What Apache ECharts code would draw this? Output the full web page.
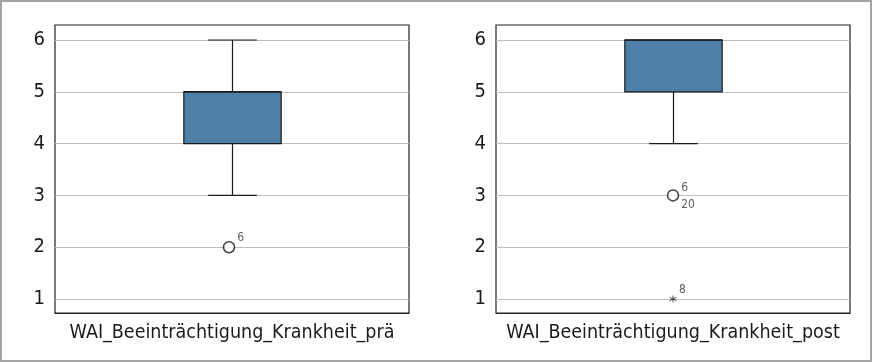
<!DOCTYPE html>
<html><head><meta charset="utf-8">
<script src="https://cdn.jsdelivr.net/npm/echarts@6/dist/echarts.min.js"></script>
<style>
html,body{margin:0;padding:0;background:#fff}
#wrap{position:relative;width:872px;height:362px}
#c{width:872px;height:362px}
#frame{position:absolute;left:0;top:0;width:872px;height:362px;box-sizing:border-box;border:2px solid #a3a3a3;pointer-events:none}
</style></head><body>
<div id="wrap"><div id="c"></div><div id="frame"></div></div>
<script>
// ---- data ----
const categories = ['WAI_Beeinträchtigung_Krankheit_prä', 'WAI_Beeinträchtigung_Krankheit_post'];
const yTicks = [1, 2, 3, 4, 5, 6];
// [lower whisker, Q1, median, Q3, upper whisker]
const boxPre = [3, 4, 5, 5, 6];
const boxPost = [4, 5, 6, 6, 6];
// outliers: [value, case label(s)]
const outliersPre = [[2, '6']];
const outliersPost = [[3, '6', '20']];
const extremesPost = [[1, '8']];

const FONT = '"Liberation Sans Narrow", "Arial Narrow", "DejaVu Sans Condensed", sans-serif';
const BOX_COLOR = '#4e7fa6';
const INK = '#1a1a1a';

function renderBox(params, api) {
  const x = api.value(0);
  const lo = api.value(1), q1 = api.value(2), med = api.value(3), q3 = api.value(4), hi = api.value(5);
  const band = api.size([1, 0])[0];
  const bw = band * 0.275, cw = bw / 2;
  const pLo = api.coord([x, lo]), pQ1 = api.coord([x, q1]), pMed = api.coord([x, med]);
  const pQ3 = api.coord([x, q3]), pHi = api.coord([x, hi]);
  const cx = Math.round(pQ1[0]) + 0.5;
  const st = { stroke: INK, lineWidth: 1.2, fill: null };
  const ch = [];
  if (hi > q3) {
    ch.push({ type: 'line', shape: { x1: cx, y1: pQ3[1], x2: cx, y2: pHi[1] }, style: st });
    ch.push({ type: 'line', shape: { x1: cx - cw / 2, y1: pHi[1], x2: cx + cw / 2, y2: pHi[1] }, style: st });
  }
  if (lo < q1) {
    ch.push({ type: 'line', shape: { x1: cx, y1: pQ1[1], x2: cx, y2: pLo[1] }, style: st });
    ch.push({ type: 'line', shape: { x1: cx - cw / 2, y1: pLo[1], x2: cx + cw / 2, y2: pLo[1] }, style: st });
  }
  ch.push({ type: 'rect', shape: { x: cx - bw / 2, y: pQ3[1], width: bw, height: pQ1[1] - pQ3[1] },
    style: { fill: BOX_COLOR, stroke: INK, lineWidth: 1.2 } });
  ch.push({ type: 'line', shape: { x1: cx - bw / 2, y1: pMed[1], x2: cx + bw / 2, y2: pMed[1] },
    style: { stroke: INK, lineWidth: 1.5 } });
  return { type: 'group', children: ch };
}

const grids = [
  { left: 55, top: 25, width: 354, height: 288 },
  { left: 496, top: 25, width: 354, height: 288 }
];

function xAxisFor(i) {
  return {
    type: 'category', gridIndex: i, data: [categories[i]],
    axisTick: { show: false },
    axisLine: { show: true, lineStyle: { color: '#222', width: 1 } },
    axisLabel: { fontFamily: FONT, fontSize: 19.5, color: INK, margin: 10 },
    splitLine: { show: false }
  };
}
function yAxisFor(i) {
  return {
    type: 'value', gridIndex: i, min: 0.73, max: 6.29,
    axisLine: { show: false },
    axisTick: { show: false, customValues: yTicks },
    axisLabel: { fontFamily: FONT, fontSize: 20, color: INK, margin: 10, customValues: yTicks,
      formatter: v => (Number.isInteger(v) ? String(v) : '') },
    splitLine: { show: true, lineStyle: { color: '#bdbdbd', width: 1 } }
  };
}

function outlierLabel(p) {
  const v = p.value;
  return v.slice(2).join('\n');
}

const option = {
  animation: false,
  backgroundColor: '#fff',
  grid: grids.map(g => Object.assign({ show: true, borderColor: '#222', borderWidth: 1.2, backgroundColor: 'transparent', containLabel: false }, g)),
  xAxis: [xAxisFor(0), xAxisFor(1)],
  yAxis: [yAxisFor(0), yAxisFor(1)],
  series: [
    { type: 'custom', xAxisIndex: 0, yAxisIndex: 0, renderItem: renderBox,
      encode: { x: 0, y: [1, 2, 3, 4, 5] }, data: [[0].concat(boxPre)], z: 3 },
    { type: 'custom', xAxisIndex: 1, yAxisIndex: 1, renderItem: renderBox,
      encode: { x: 0, y: [1, 2, 3, 4, 5] }, data: [[0].concat(boxPost)], z: 3 },
    { type: 'scatter', xAxisIndex: 0, yAxisIndex: 0, symbol: 'circle', symbolSize: 11, symbolOffset: [-3, 0],
      itemStyle: { color: '#fff', borderColor: '#111', borderWidth: 1.5 },
      encode: { x: 0, y: 1 }, data: outliersPre.map(o => [0].concat(o)), z: 4,
      label: { show: true, position: 'right', distance: 2, offset: [0, -9], formatter: outlierLabel,
        fontFamily: FONT, fontSize: 12, color: '#333' } },
    { type: 'scatter', xAxisIndex: 1, yAxisIndex: 1, symbol: 'circle', symbolSize: 11,
      itemStyle: { color: '#fff', borderColor: '#111', borderWidth: 1.5 },
      encode: { x: 0, y: 1 }, data: outliersPost.map(o => [0].concat(o)), z: 4,
      label: { show: true, position: 'right', distance: 2, offset: [0, 1], formatter: outlierLabel,
        fontFamily: FONT, fontSize: 12, lineHeight: 17, color: '#333' } },
    { type: 'scatter', xAxisIndex: 1, yAxisIndex: 1,
      symbol: 'path://M5,0L5,10M0.67,2.5L9.33,7.5M0.67,7.5L9.33,2.5', symbolSize: 7,
      itemStyle: { color: 'transparent', borderColor: '#222', borderWidth: 1 },
      encode: { x: 0, y: 1 }, data: extremesPost.map(o => [0].concat(o)), z: 4,
      label: { show: true, position: 'right', distance: 2, offset: [0, -9], formatter: outlierLabel,
        fontFamily: FONT, fontSize: 12, color: '#333' } }
  ]
};

const chart = echarts.init(document.getElementById('c'), null, { renderer: 'canvas' });
chart.setOption(option);
</script>
</body></html>
